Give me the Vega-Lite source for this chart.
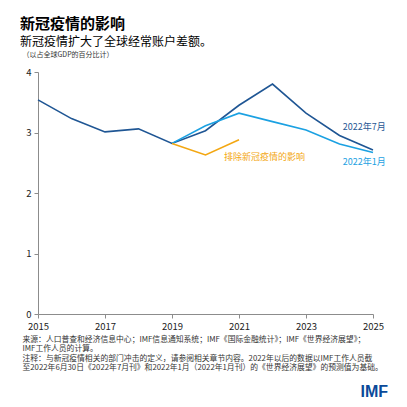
{
  "$schema": "https://vega.github.io/schema/vega-lite/v6.json",
  "autosize": "none",
  "width": 335,
  "height": 242,
  "padding": {"left": 38, "top": 72, "right": 34, "bottom": 93},
  "background": "white",
  "config": {"font": "Noto Sans CJK SC", "view": {"stroke": null}},
  "title": {
    "text": "新冠疫情的影响",
    "subtitle": "新冠疫情扩大了全球经常账户差额。",
    "anchor": "start",
    "frame": "group",
    "dx": -18,
    "offset": 2,
    "fontSize": 15,
    "fontWeight": "bold",
    "color": "#000000",
    "subtitleFontSize": 12,
    "subtitleColor": "#000000",
    "subtitlePadding": 5
  },
  "datasets": {
    "lines": [
      {"year": 2015, "value": 3.54, "series": "2022年7月"},
      {"year": 2016, "value": 3.23, "series": "2022年7月"},
      {"year": 2017, "value": 3.01, "series": "2022年7月"},
      {"year": 2018, "value": 3.06, "series": "2022年7月"},
      {"year": 2019, "value": 2.82, "series": "2022年7月"},
      {"year": 2020, "value": 3.03, "series": "2022年7月"},
      {"year": 2021, "value": 3.45, "series": "2022年7月"},
      {"year": 2022, "value": 3.80, "series": "2022年7月"},
      {"year": 2023, "value": 3.32, "series": "2022年7月"},
      {"year": 2024, "value": 2.95, "series": "2022年7月"},
      {"year": 2025, "value": 2.71, "series": "2022年7月"},
      {"year": 2019, "value": 2.82, "series": "2022年1月"},
      {"year": 2020, "value": 3.11, "series": "2022年1月"},
      {"year": 2021, "value": 3.32, "series": "2022年1月"},
      {"year": 2022, "value": 3.18, "series": "2022年1月"},
      {"year": 2023, "value": 3.04, "series": "2022年1月"},
      {"year": 2024, "value": 2.81, "series": "2022年1月"},
      {"year": 2025, "value": 2.67, "series": "2022年1月"},
      {"year": 2019, "value": 2.82, "series": "排除新冠疫情的影响"},
      {"year": 2020, "value": 2.63, "series": "排除新冠疫情的影响"},
      {"year": 2021, "value": 2.88, "series": "排除新冠疫情的影响"}
    ],
    "labels": [
      {"year": 2024.1, "value": 3.09, "series": "2022年7月", "label": "2022年7月"},
      {"year": 2024.1, "value": 2.51, "series": "2022年1月", "label": "2022年1月"},
      {"year": 2020.55, "value": 2.6, "series": "排除新冠疫情的影响", "label": "排除新冠疫情的影响"}
    ],
    "logo": [
      {"year": 2025.45, "value": -1.29, "label": "IMF"}
    ]
  },
  "layer": [
    {
      "data": {"name": "lines"},
      "mark": {"type": "line", "strokeWidth": 1.6},
      "encoding": {
        "x": {
          "field": "year", "type": "quantitative",
          "scale": {"domain": [2015, 2025], "nice": false, "zero": false},
          "axis": {
            "values": [2015, 2017, 2019, 2021, 2023, 2025],
            "format": "d",
            "grid": false,
            "domainColor": "#8c8c8c",
            "tickColor": "#8c8c8c",
            "tickSize": 4,
            "labelFontSize": 9.5,
            "labelColor": "#222222",
            "labelPadding": 3,
            "labelFlush": false,
            "title": [
              "来源：人口普查和经济信息中心；IMF信息通知系统；IMF《国际金融统计》；IMF《世界经济展望》；",
              "IMF工作人员的计算。",
              "注释：与新冠疫情相关的部门冲击的定义，请参阅相关章节内容。2022年以后的数据以IMF工作人员截",
              "至2022年6月30日《2022年7月刊》和2022年1月（2022年1月刊）的《世界经济展望》的预测值为基础。"
            ],
            "titleAnchor": "start",
            "titleAlign": "left",
            "titleBaseline": "top",
            "titleX": -16,
            "titleY": 21,
            "titleFontSize": 7.8,
            "titleFontWeight": "normal",
            "titleColor": "#333333",
            "titleLineHeight": 9.6
          }
        },
        "y": {
          "field": "value", "type": "quantitative",
          "scale": {"domain": [0, 4], "nice": false},
          "axis": {
            "values": [0, 1, 2, 3, 4],
            "format": "d",
            "grid": false,
            "domainColor": "#8c8c8c",
            "tickColor": "#8c8c8c",
            "tickSize": 4,
            "labelFontSize": 9.5,
            "labelColor": "#222222",
            "labelPadding": 3,
            "title": "（以占全球GDP的百分比计）",
            "titleAngle": 0,
            "titleAlign": "left",
            "titleBaseline": "top",
            "titleX": -16,
            "titleY": -22,
            "titleFontSize": 7,
            "titleFontWeight": "normal",
            "titleColor": "#333333"
          }
        },
        "color": {
          "field": "series", "type": "nominal",
          "scale": {"domain": ["排除新冠疫情的影响", "2022年1月", "2022年7月"], "range": ["#f3a712", "#1ba1e2", "#1f5694"]},
          "legend": null
        }
      }
    },
    {
      "data": {"name": "labels"},
      "mark": {"type": "text", "fontSize": 9, "baseline": "middle", "align": "left"},
      "encoding": {
        "x": {"field": "year", "type": "quantitative"},
        "y": {"field": "value", "type": "quantitative"},
        "text": {"field": "label"},
        "color": {"field": "series", "type": "nominal", "legend": null}
      }
    },
    {
      "data": {"name": "logo"},
      "mark": {"type": "text", "fontSize": 16, "fontWeight": "bold", "align": "right", "baseline": "middle", "color": "#0a4a9a", "font": "Liberation Sans"},
      "encoding": {
        "x": {"field": "year", "type": "quantitative"},
        "y": {"field": "value", "type": "quantitative"},
        "text": {"field": "label"}
      }
    }
  ]
}
